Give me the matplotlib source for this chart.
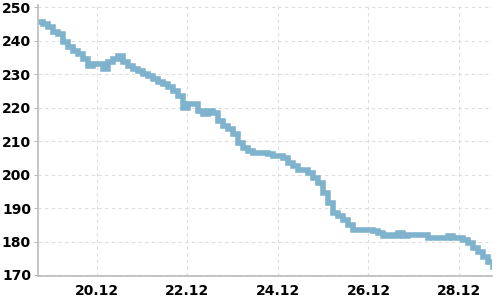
import matplotlib
matplotlib.use("Agg")
import matplotlib.pyplot as plt
import matplotlib.dates as mdates
import pandas as pd
import numpy as np

start_time = "2023-12-18 16:45"
step = "159min"
values = [
    245.5, 245, 244, 242.5, 242, 239.5, 238, 237, 236, 234.5,
    232.5, 233, 233, 231.5, 233.5, 234.5, 235.5, 233.5, 232.5, 231.5,
    231, 230, 229.5, 228.5, 227.5, 227, 226, 225, 223.5, 220,
    221, 221, 219, 218, 219, 218.5, 216, 214.5, 213.5, 212,
    209.5, 208, 207, 206.5, 206.5, 206.5, 206, 205.5, 205.5, 205,
    203.5, 202.5, 201.5, 201.5, 200.5, 199, 197.5, 194.5, 191.5, 188.5,
    187.5, 186.5, 185, 183.5, 183.5, 183.5, 183.5, 183, 182.5, 181.5,
    182, 181.5, 182.5, 181.5, 182, 182, 182, 182, 181, 181,
    181, 181, 181.5, 181, 181, 180.5, 179.5, 178, 177, 175.5,
    174, 172.5,
]
times = pd.date_range(start=start_time, periods=len(values), freq=step)

y_ticks = [170, 180, 190, 200, 210, 220, 230, 240, 250]
x_tick_days = [20, 22, 24, 26, 28]

fig = plt.figure(figsize=(5, 3), dpi=100)
ax = fig.add_axes([0.076, 0.08, 0.908, 0.903])
ax.step(times, values, where="post", color="#7fb2cc", lw=4, solid_joinstyle="miter")

ax.set_ylim(169.7, 250.6)
ax.set_xlim(pd.Timestamp("2023-12-18 16:45"), pd.Timestamp("2023-12-28 17:30"))
ax.set_yticks(y_ticks)
ax.xaxis.set_major_locator(mdates.DayLocator(bymonthday=x_tick_days))
ax.xaxis.set_major_formatter(mdates.DateFormatter("%d.%m"))

ax.grid(True, color="#dddddd", linestyle=(0, (3, 3)), linewidth=0.8)
ax.set_axisbelow(True)
for s in ["top", "right"]:
    ax.spines[s].set_visible(False)
for s in ["left", "bottom"]:
    ax.spines[s].set_color("#bbbbbb")
    ax.spines[s].set_linewidth(1.2)
ax.tick_params(axis="y", length=3, color="#bbbbbb", labelsize=10, pad=2)
ax.tick_params(axis="x", length=0, labelsize=10, pad=6)
for lab in ax.get_xticklabels() + ax.get_yticklabels():
    lab.set_fontweight("bold")

fig.savefig("out.png", dpi=100)
